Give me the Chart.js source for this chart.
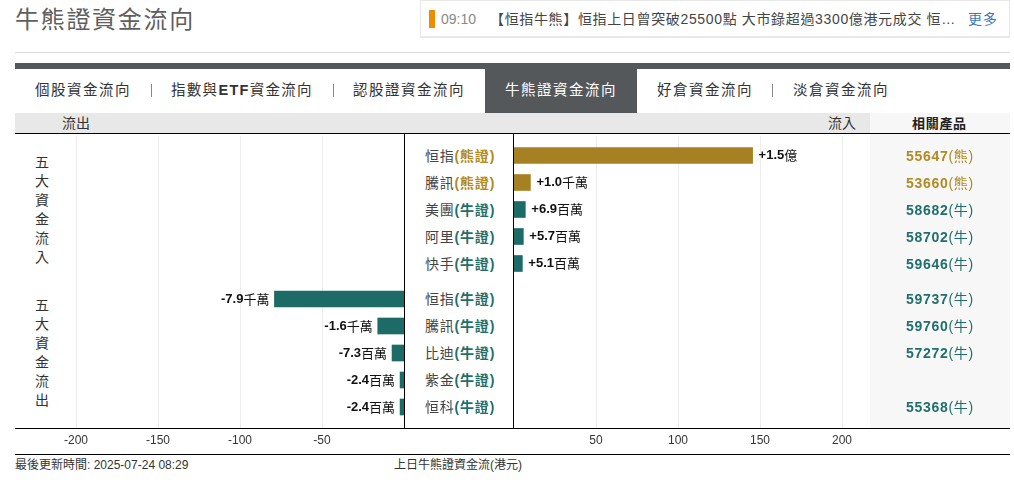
<!DOCTYPE html>
<html lang="zh-Hant"><head><meta charset="utf-8">
<script src="https://cdn.jsdelivr.net/npm/chart.js@4"></script>
<style>
html,body{margin:0;padding:0;background:#fff;width:1014px;height:492px;overflow:hidden}
body{position:relative;font-family:"Liberation Sans","Noto Sans CJK TC",sans-serif;color:#333}
.a{position:absolute;white-space:nowrap}
canvas{position:absolute}
#title{left:15px;top:5px;font-size:24px;line-height:30px;color:#5f5f5f;letter-spacing:1.7px}
#hr{left:15px;top:52px;width:995px;height:1px;background:#ddd}
#news{left:420px;top:0;width:588px;height:35px;border:1px solid #e8e8e8;border-bottom-width:2px;border-right-width:1px}
#flag{left:429px;top:10px;width:6px;height:18px;background:#ee8c00}
#time{left:441px;top:10px;font-size:14px;line-height:18px;color:#888}
#ntext{left:490px;top:10px;font-size:14px;line-height:18px;color:#444;letter-spacing:.65px}
#more{left:968px;top:10px;font-size:14px;line-height:18px;color:#3b78b8;letter-spacing:1px}
#band{left:15px;top:63px;width:995px;height:6px;background:#55585b}
#tab{left:485px;top:63px;width:152px;height:50px;background:#55585b}
.nav{top:81px;font-size:14.5px;line-height:18px;letter-spacing:1.5px;color:#333}
.sep{top:84px;width:1px;height:13px;background:#888}
#strip{left:15px;top:113px;width:855px;height:20px;background:#e8e8e8}
#prod{left:870px;top:113px;width:140px;height:315px;background:#f7f7f7}
#line1{left:15px;top:133px;width:995px;height:1px;background:#000}
#axisl{left:15px;top:428px;width:995px;height:1px;background:#000}
#foot{left:15px;top:454px;width:995px;height:1px;background:#000}
.v{position:absolute;width:1px;top:133px;height:295px;background:#000}
.side{left:35px;width:14px;font-size:14px;line-height:19px;text-align:center;white-space:normal;color:#333}
.rowlab{left:425px;font-size:14px;line-height:18px;letter-spacing:.8px;color:#444}
.rowlab b,.prod b{font-weight:bold}
.prod{left:906px;font-size:14px;line-height:18px;font-weight:bold;letter-spacing:.7px}
.prod span{font-weight:normal}
.small{font-size:12px;line-height:14px;color:#333}
</style></head><body>
<div class="a" id="title">牛熊證資金流向</div><div class="a" id="hr"></div>
<div class="a" id="news"></div><div class="a" id="flag"></div><div class="a" id="time">09:10</div>
<div class="a" id="ntext">【恒指牛熊】恒指上日曾突破25500點 大市錄超過3300億港元成交 恒…</div><div class="a" id="more">更多</div>
<div class="a" id="band"></div><div class="a" id="tab"></div>
<div class="a nav" style="left:35px">個股資金流向</div><div class="a sep" style="left:151px"></div>
<div class="a nav" style="left:171px;letter-spacing:1.3px">指數與<b>ETF</b>資金流向</div><div class="a sep" style="left:333px"></div>
<div class="a nav" style="left:353px">認股證資金流向</div>
<div class="a nav" style="left:505px;color:#fff">牛熊證資金流向</div>
<div class="a nav" style="left:657px">好倉資金流向</div><div class="a sep" style="left:772px"></div>
<div class="a nav" style="left:793px">淡倉資金流向</div>
<div class="a" id="strip"></div><div class="a" id="prod"></div>
<div class="a" style="left:62px;top:116px;font-size:14px;line-height:15px">流出</div>
<div class="a" style="left:828px;top:116px;font-size:14px;line-height:15px">流入</div>
<div class="a" style="left:912px;top:117px;font-size:13px;line-height:14px;font-weight:bold;color:#222;letter-spacing:.7px">相關產品</div>
<div class="a side" style="top:153px">五大資金流入</div>
<div class="a side" style="top:296px">五大資金流出</div>
<canvas id="left" width="390" height="314" style="left:15px;top:136px;width:390px;height:314px"></canvas>
<canvas id="right" width="496" height="314" style="left:514px;top:136px;width:496px;height:314px"></canvas>
<div class="a" id="line1"></div><div class="a" id="axisl"></div>
<div class="v" style="left:404px"></div><div class="v" style="left:513px"></div>
<div class="a" id="foot"></div>
<div class="a small" style="left:15px;top:458px">最後更新時間: 2025-07-24 08:29</div>
<div class="a small" style="left:394px;top:458px">上日牛熊證資金流(港元)</div>
<script>
const inNames   = ['恒指','騰訊','美團','阿里','快手'];
const inTypes   = ['熊證','熊證','牛證','牛證','牛證'];
const inValues  = [145.5,10,6.9,5.7,5.1];
const inLabels  = ['+1.5億','+1.0千萬','+6.9百萬','+5.7百萬','+5.1百萬'];
const inCodes   = ['55647(熊)','53660(熊)','58682(牛)','58702(牛)','59646(牛)'];
const outNames  = ['恒指','騰訊','比迪','紫金','恒科'];
const outTypes  = ['牛證','牛證','牛證','牛證','牛證'];
const outValues = [-79,-16,-7.3,-2.4,-2.4];
const outLabels = ['-7.9千萬','-1.6千萬','-7.3百萬','-2.4百萬','-2.4百萬'];
const outCodes  = ['59737(牛)','59760(牛)','57272(牛)','','55368(牛)'];
const negTicks  = [-200,-150,-100,-50];
const posTicks  = [50,100,150,200];

const GOLD='#a68123', TEAL='#1d6b66', GOLDT='#b08a22', TEALT='#1f6f6a';
const PXU=1.64, ROW=27, GAP=8.5/ROW;
const colorOf=t=>t==='熊證'?GOLD:TEAL;
const textOf=t=>t==='熊證'?GOLDT:TEALT;
const NUMF='bold 13px "Liberation Sans"', CJKF='13px "Noto Sans CJK TC"';

const labelPlugin={id:'barLabels',afterDatasetsDraw(c,_,o){
  const ctx=c.ctx,meta=c.getDatasetMeta(0);
  ctx.save();ctx.fillStyle='#111';ctx.textBaseline='middle';ctx.textAlign='left';
  meta.data.forEach((b,i)=>{
    const t=o.labels[i],neg=t[0]==='-',m=t.match(/^([-+\d.]+)(.*)$/);
    ctx.font=NUMF;const w1=ctx.measureText(m[1]).width;
    ctx.font=CJKF;const w2=ctx.measureText(m[2]).width;
    const x=neg?b.x-5-w1-w2:b.x+6;
    ctx.font=NUMF;ctx.fillText(m[1],x,b.y);
    ctx.font=CJKF;ctx.fillText(m[2],x+w1,b.y);
  });
  ctx.restore();
}};
function make(id,values,types,labels,offset,ticks,min,max,padRight){
  return new Chart(document.getElementById(id),{
    type:'bar',plugins:[labelPlugin],
    data:{datasets:[{
      data:values.map((v,i)=>({x:v,y:i+offset})),
      backgroundColor:types.map(colorOf),barThickness:16,borderWidth:0}]},
    options:{indexAxis:'y',responsive:false,animation:false,devicePixelRatio:1,
      layout:{padding:{right:padRight}},
      plugins:{legend:{display:false},tooltip:{enabled:false},barLabels:{labels}},
      scales:{
        y:{type:'linear',display:false,reverse:true,offset:false,grid:{offset:false},min:-19.5/ROW,max:272.5/ROW},
        x:{type:'linear',min,max,
          afterBuildTicks:s=>{s.ticks=ticks.map(value=>({value}));},
          afterFit:s=>{s.height=22;},
          border:{display:false},
          grid:{color:'#ececec',lineWidth:1,drawTicks:false},
          ticks:{padding:5,maxRotation:0,autoSkip:false,color:'#333',
            font:{family:'"Liberation Sans","Noto Sans CJK TC"',size:12}}}
      }}});
}
const L=make('left',outValues,outTypes,outLabels,5+GAP,negTicks,-389/PXU,0,1);
const R=make('right',inValues,inTypes,inLabels,0,posTicks,0,496/PXU,0);
function rows(chart,names,types,codes){
  const m=chart.getDatasetMeta(0);
  names.forEach((n,i)=>{
    const top=Math.round(m.data[i].y-9)+136;
    const d=document.createElement('div');d.className='a rowlab';d.style.top=top+'px';
    d.innerHTML=n+'<b style="color:'+textOf(types[i])+'">('+types[i]+')</b>';
    document.body.appendChild(d);
    if(codes[i]){const p=document.createElement('div');p.className='a prod';p.style.top=top+'px';
      p.style.color=textOf(types[i]);
      const k=codes[i].indexOf('(');
      p.innerHTML=codes[i].slice(0,k)+'<span>'+codes[i].slice(k)+'</span>';
      document.body.appendChild(p);}
  });
}
rows(R,inNames,inTypes,inCodes);rows(L,outNames,outTypes,outCodes);
</script></body></html>
